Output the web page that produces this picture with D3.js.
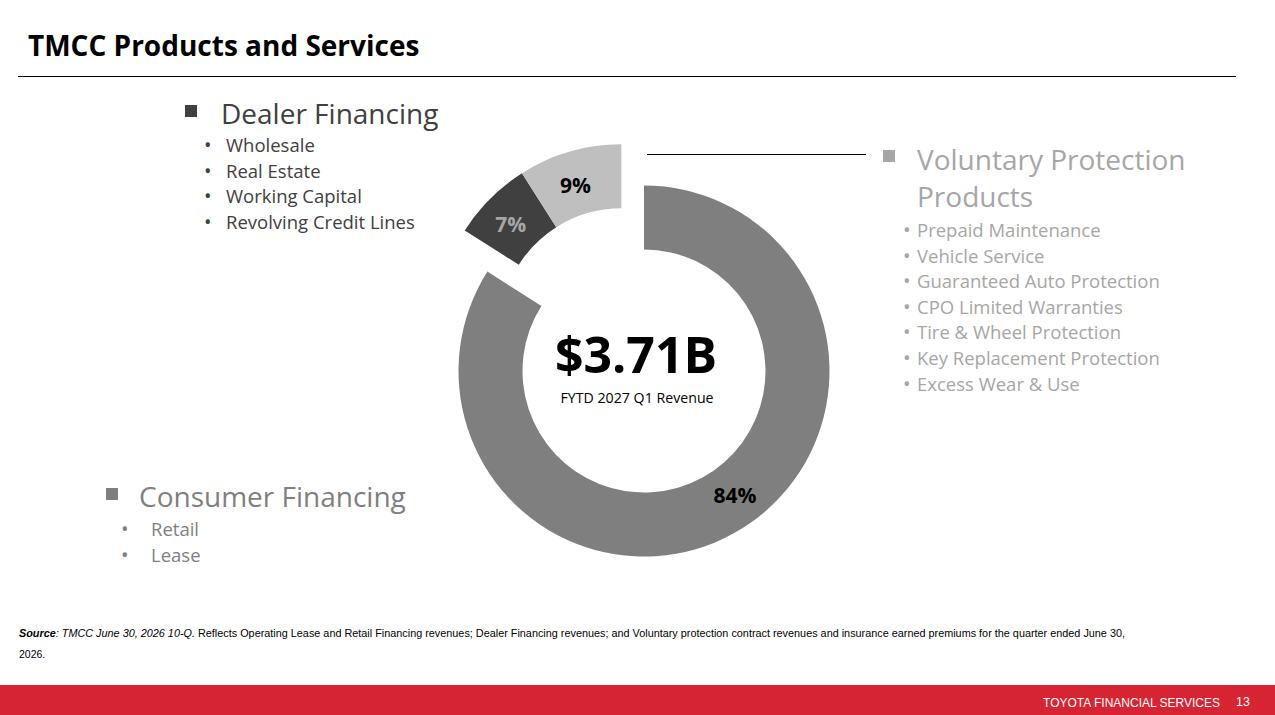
<!DOCTYPE html>
<html>
<head>
<meta charset="utf-8">
<script src="https://cdn.jsdelivr.net/npm/d3@7"></script>
<style>
  html, body { margin: 0; padding: 0; background: #fff; }
  svg { display: block; }
</style>
</head>
<body>
<svg id="chart" width="1275" height="715"></svg>
<script>
// ---- data ----
const segments = ["Consumer Financing", "Dealer Financing", "Voluntary Protection Products"];
const shares = [84, 7, 9];
const shareLabels = ["84%", "7%", "9%"];
const exploded = [false, true, true];
const totalLabel = "$3.71B";
const totalSub = "FYTD 2027 Q1 Revenue";

const dealerItems = ["Wholesale", "Real Estate", "Working Capital", "Revolving Credit Lines"];
const vppItems = ["Prepaid Maintenance", "Vehicle Service", "Guaranteed Auto Protection", "CPO Limited Warranties", "Tire & Wheel Protection", "Key Replacement Protection", "Excess Wear & Use"];
const consumerItems = ["Retail", "Lease"];

// ---- styles ----
const segColors = ["#7f7f7f", "#404040", "#bfbfbf"];
const labelColors = ["#000000", "#a6a6a6", "#000000"];
const labelNudge = [[17, -10], [-2, 3], [-3, 3]];
const legendColors = { dealer: "#404040", vpp: "#a6a6a6", consumer: "#7f7f7f" };
const legendFont = "'Open Sans', 'Noto Sans', sans-serif";

const svg = d3.select("#chart");

// title + rule
svg.append("text").attr("x", 28).attr("y", 56)
  .attr("font-family", "'Open Sans', sans-serif").attr("font-weight", 700)
  .attr("font-size", 28).attr("fill", "#000").text("TMCC Products and Services");
svg.append("line").attr("x1", 18).attr("x2", 1236).attr("y1", 76.5).attr("y2", 76.5)
  .attr("stroke", "#000").attr("stroke-width", 1);

// donut
const cx = 644, cy = 371, rOuter = 185.5, rInner = 121.5, explodeDist = 47;
const pie = d3.pie().sort(null).value(d => d)(shares);
const arc = d3.arc().innerRadius(rInner).outerRadius(rOuter);
const g = svg.append("g").attr("transform", `translate(${cx},${cy})`);

// explosion direction: mid-angle of the exploded group
const exArcs = pie.filter((d, i) => exploded[i]);
const exMid = (d3.min(exArcs, d => d.startAngle) + d3.max(exArcs, d => d.endAngle)) / 2;
const exDx = Math.sin(exMid) * explodeDist, exDy = -Math.cos(exMid) * explodeDist;

const sliceG = g.selectAll("g.slice").data(pie).join("g")
  .attr("class", "slice")
  .attr("transform", (d, i) => exploded[i] ? `translate(${exDx},${exDy})` : null);
sliceG.append("path").attr("d", arc).attr("fill", (d, i) => segColors[i]);
sliceG.append("text")
  .attr("transform", (d, i) => {
    const c = arc.centroid(d);
    return `translate(${c[0] + labelNudge[i][0]},${c[1] + labelNudge[i][1]})`;
  })
  .attr("text-anchor", "middle").attr("dy", "0.35em")
  .attr("font-family", "'Open Sans', sans-serif").attr("font-weight", 700)
  .attr("font-size", 21).attr("fill", (d, i) => labelColors[i])
  .text((d, i) => shareLabels[i]);

g.append("text").attr("x", -8).attr("y", 2).attr("text-anchor", "middle")
  .attr("font-family", "'Open Sans', sans-serif").attr("font-weight", 700)
  .attr("font-size", 50).attr("fill", "#000").text(totalLabel);
g.append("text").attr("x", -7).attr("y", 32).attr("text-anchor", "middle")
  .attr("font-family", "'Open Sans', sans-serif").attr("font-weight", 400)
  .attr("font-size", 14.2).attr("fill", "#000").text(totalSub);

// connector line
svg.append("line").attr("x1", 647).attr("x2", 866).attr("y1", 154.5).attr("y2", 154.5)
  .attr("stroke", "#000").attr("stroke-width", 1);

// legends
function legendBlock(opt) {
  const lg = svg.append("g");
  lg.append("rect").attr("x", opt.sqX).attr("y", opt.sqY).attr("width", 12).attr("height", 12)
    .attr("fill", opt.color);
  opt.heading.forEach((h, i) => {
    lg.append("text").attr("x", opt.hx).attr("y", opt.hy + i * 37)
      .attr("font-family", legendFont).attr("font-size", 28).attr("fill", opt.color).text(h);
  });
  opt.items.forEach((t, i) => {
    const y = opt.iy + i * opt.step;
    lg.append("text").attr("x", opt.bx).attr("y", y)
      .attr("font-family", legendFont).attr("font-size", 20).attr("fill", opt.color).text("•");
    lg.append("text").attr("x", opt.tx).attr("y", y)
      .attr("font-family", legendFont).attr("font-size", 18.5).attr("fill", opt.color).text(t);
  });
}
legendBlock({ color: legendColors.dealer, sqX: 185, sqY: 105, heading: [segments[1]], hx: 221, hy: 124,
  items: dealerItems, bx: 204, tx: 226, iy: 152, step: 25.7 });
legendBlock({ color: legendColors.vpp, sqX: 883, sqY: 150, heading: ["Voluntary Protection", "Products"], hx: 917, hy: 170,
  items: vppItems, bx: 903, tx: 917, iy: 237, step: 25.6 });
legendBlock({ color: legendColors.consumer, sqX: 106, sqY: 488, heading: [segments[0]], hx: 139, hy: 507,
  items: consumerItems, bx: 121, tx: 151, iy: 536, step: 26 });

// source note
const srcFont = "'Liberation Sans Narrow', 'Liberation Sans', sans-serif";
const src = svg.append("text").attr("x", 19).attr("y", 637)
  .attr("font-family", srcFont).attr("font-size", 10.5).attr("fill", "#000")
  .attr("textLength", 1106).attr("lengthAdjust", "spacingAndGlyphs");
src.append("tspan").attr("font-weight", 700).attr("font-style", "italic").text("Source");
src.append("tspan").attr("font-style", "italic").text(": TMCC June 30, 2026 10-Q.");
src.append("tspan").text("  Reflects Operating Lease and Retail Financing revenues; Dealer Financing revenues; and Voluntary protection contract revenues and insurance earned premiums for the quarter ended June 30,");
svg.append("text").attr("x", 19).attr("y", 658)
  .attr("font-family", srcFont).attr("font-size", 10.5).attr("fill", "#000").text("2026.");

// footer
svg.append("rect").attr("x", 0).attr("y", 685).attr("width", 1275).attr("height", 30).attr("fill", "#d62433");
svg.append("text").attr("x", 1220).attr("y", 707).attr("text-anchor", "end")
  .attr("font-family", srcFont).attr("font-size", 12).attr("fill", "#fff")
  .text("TOYOTA FINANCIAL SERVICES");
svg.append("text").attr("x", 1243).attr("y", 706).attr("text-anchor", "middle")
  .attr("font-family", srcFont).attr("font-size", 12.5).attr("fill", "#fff")
  .text("13");
</script>
</body>
</html>
